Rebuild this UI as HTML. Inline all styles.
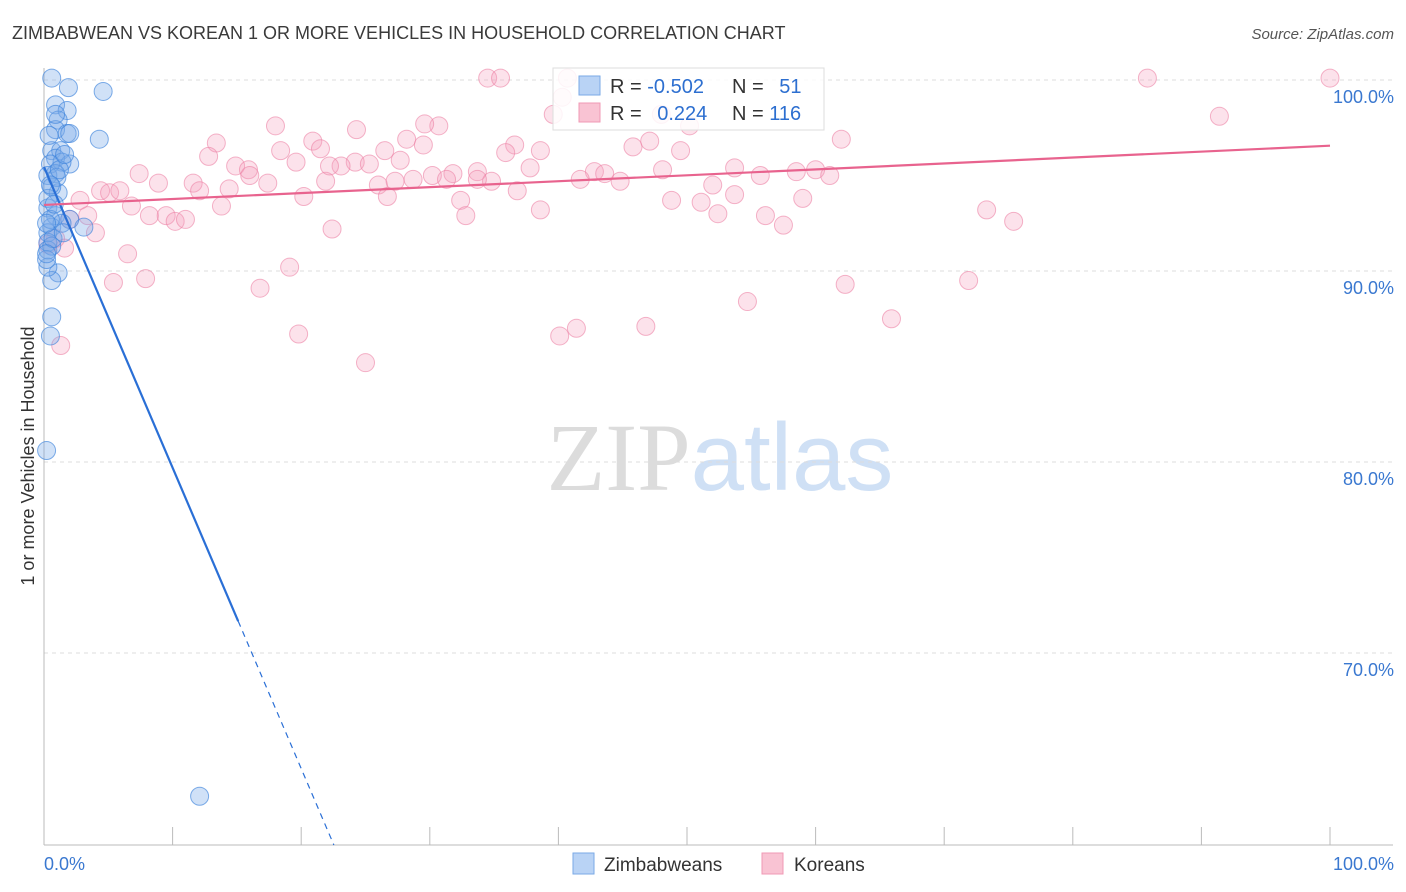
<!DOCTYPE html>
<html><head><meta charset="utf-8"><style>
body{margin:0;background:#fff;font-family:"Liberation Sans",sans-serif;}
svg{display:block}
</style></head><body>
<svg id="chart" width="1406" height="892" xmlns="http://www.w3.org/2000/svg">
<text x="12" y="39" font-size="18" fill="#3a3a3a">ZIMBABWEAN VS KOREAN 1 OR MORE VEHICLES IN HOUSEHOLD CORRELATION CHART</text>
<text x="1394" y="39" font-size="15" fill="#555" text-anchor="end" font-style="italic">Source: ZipAtlas.com</text>
<text transform="translate(34,456) rotate(-90)" font-size="18" fill="#333" text-anchor="middle">1 or more Vehicles in Household</text>
<text x="720" y="490" font-size="96" text-anchor="middle"><tspan fill="#dcdcdc" font-family="Liberation Serif">ZIP</tspan><tspan fill="#cfe0f5">atlas</tspan></text>
<g id="grid"></g><g id="marks"></g><g id="lines"></g>
<g>
<rect x="553" y="68" width="271" height="62" fill="#fff" fill-opacity="0.85" stroke="#ddd"/>
<rect x="579" y="76" width="21" height="19" fill="#b9d3f5" stroke="#7aa9e6"/>
<rect x="579" y="103" width="21" height="19" fill="#f9c3d3" stroke="#f09ab5"/>
<text x="610" y="93" font-size="20" fill="#333">R = <tspan fill="#2d6fd0">-0.502</tspan></text>
<text x="732" y="93" font-size="20" fill="#333">N = <tspan fill="#2d6fd0" dx="10">51</tspan></text>
<text x="610" y="120" font-size="20" fill="#333">R = <tspan fill="#2d6fd0" dx="10">0.224</tspan></text>
<text x="732" y="120" font-size="20" fill="#333">N = <tspan fill="#2d6fd0">116</tspan></text>
</g>
<g>
<rect x="573" y="853" width="21" height="21" fill="#b9d3f5" stroke="#7aa9e6"/>
<text x="604" y="871" font-size="19" fill="#333">Zimbabweans</text>
<rect x="762" y="853" width="21" height="21" fill="#f9c3d3" stroke="#f09ab5"/>
<text x="794" y="871" font-size="19" fill="#333">Koreans</text>
</g>
<text x="44" y="870" font-size="18" fill="#3a78d0">0.0%</text>
<text x="1394" y="870" font-size="18" fill="#3a78d0" text-anchor="end">100.0%</text>
</svg>
<script>
const yTicks=[100,90,80,70];
const xTicks=[0,10,20,30,40,50,60,70,80,90,100];
const blueX=[0.6,1.9,4.6,0.9,1.8,1.1,0.9,1.8,2.0,4.3,0.6,1.3,0.9,2.0,1.4,0.5,0.9,0.3,1.1,0.6,0.3,0.9,2.0,3.1,0.6,0.3,0.3,0.3,0.6,1.1,0.6,0.6,0.5,0.2,12.1,0.3,0.2,1.4,1.0,0.3,0.5,0.7,0.2,1.2,0.4,0.9,1.6,0.5,0.8,1.5,0.2];
const blueY=[100.1,99.6,99.4,98.7,98.4,97.9,97.4,97.2,97.2,96.9,96.3,96.3,95.9,95.6,95.7,95.6,95.1,95.0,94.1,94.4,93.3,92.9,92.7,92.3,92.3,92.0,91.5,91.1,91.3,89.9,89.5,87.6,86.6,80.6,62.5,90.2,90.6,92.5,94.9,93.8,92.7,91.7,90.9,95.3,97.1,98.2,96.1,94.5,93.5,92.0,92.5];
const pinkX=[100,34.5,35.5,40.7,85.8,91.4,40.3,39.6,48.0,18.0,24.3,30.7,29.6,13.4,20.9,28.2,29.5,36.6,38.6,45.8,47.1,49.5,50.2,62.0,35.9,21.5,18.4,26.5,27.7,12.8,19.6,24.2,23.1,25.3,14.9,15.9,7.4,16.0,17.4,21.9,26.0,27.3,28.7,30.2,31.8,33.7,34.8,37.8,42.8,43.6,48.1,53.7,55.7,58.5,60.0,61.1,8.9,4.4,5.1,5.9,11.6,12.1,14.4,20.2,26.7,36.8,32.4,2.8,6.8,13.8,3.4,8.2,9.5,10.2,11.0,32.8,38.6,48.8,51.1,52.4,56.1,59.0,73.3,75.4,57.5,4.0,22.4,6.5,5.4,7.9,16.8,19.1,19.8,25.0,40.1,41.4,46.8,54.7,62.3,65.9,71.9,1.3,0.3,0.9,1.6,2.0,22.2,31.3,33.7,41.7,44.8,52.0,53.7];
const pinkY=[100.1,100.1,100.1,100.1,100.1,98.1,99.1,98.2,98.2,97.6,97.4,97.6,97.7,96.7,96.8,96.9,96.6,96.6,96.3,96.5,96.8,96.3,97.6,96.9,96.2,96.4,96.3,96.3,95.8,96.0,95.7,95.7,95.5,95.6,95.5,95.3,95.1,95.0,94.6,94.7,94.5,94.7,94.8,95.0,95.1,95.2,94.7,95.4,95.2,95.1,95.3,95.4,95.0,95.2,95.3,95.0,94.6,94.2,94.1,94.2,94.6,94.2,94.3,93.9,93.9,94.2,93.7,93.7,93.4,93.4,92.9,92.9,92.9,92.6,92.7,92.9,93.2,93.7,93.6,93.0,92.9,93.8,93.2,92.6,92.4,92.0,92.2,90.9,89.4,89.6,89.1,90.2,86.7,85.2,86.6,87.0,87.1,88.4,89.3,87.5,89.5,86.1,91.4,91.7,91.2,92.7,95.5,94.8,94.8,94.8,94.7,94.5,94.0];
const blueFit=[95.45,-1.575];
const pinkFit=[93.46,0.031];
const X0=44,X1=1330,Y100=80,PX10=191;
const sx=v=>X0+(X1-X0)*v/100;
const sy=v=>Y100+(100-v)*PX10/10;
const NS='http://www.w3.org/2000/svg';
function mk(tag,parent,attrs){const e=document.createElementNS(NS,tag);for(const k in attrs)e.setAttribute(k,attrs[k]);parent.appendChild(e);return e;}
const grid=document.getElementById('grid'),marks=document.getElementById('marks'),lines=document.getElementById('lines');
yTicks.forEach(t=>{
 const l=mk('line',grid,{x1:X0,x2:1393,y1:sy(t),y2:sy(t),stroke:'#ddd','stroke-dasharray':'4,4'});
 
 
 const tx=mk('text',grid,{x:1394,y:sy(t)+23,'font-size':18,fill:'#3a78d0','text-anchor':'end'});
 tx.textContent=t.toFixed(1)+'%';
 
 
});
const ax=mk('line',grid,{x1:X0,x2:1393,y1:845,y2:845,stroke:'#bbb'});


const ay=mk('line',grid,{x1:X0,x2:X0,y1:68,y2:845,stroke:'#bbb'});


xTicks.forEach(t=>{
 const l=mk('line',grid,{x1:sx(t),x2:sx(t),y1:827,y2:845,stroke:'#bbb'});
 
 
});
pinkX.forEach((x,i)=>{
 const c=mk('circle',marks,{cx:sx(x),cy:sy(pinkY[i]),r:9,fill:'rgba(244,160,188,0.3)',stroke:'rgba(236,130,165,0.6)'});
 
 
});
blueX.forEach((x,i)=>{
 const c=mk('circle',marks,{cx:sx(x),cy:sy(blueY[i]),r:9,fill:'rgba(120,170,232,0.35)',stroke:'rgba(60,130,220,0.65)'});
 
 
});
const bx1=15.1,bx2=(59.95-blueFit[0])/blueFit[1];
const b1=mk('line',lines,{x1:sx(0),y1:sy(blueFit[0]),x2:sx(bx1),y2:sy(blueFit[0]+blueFit[1]*bx1),stroke:'#2a6fd6','stroke-width':2.2});


const b2=mk('line',lines,{x1:sx(bx1),y1:sy(blueFit[0]+blueFit[1]*bx1),x2:sx(bx2),y2:sy(blueFit[0]+blueFit[1]*bx2),stroke:'#2a6fd6','stroke-width':1.2,'stroke-dasharray':'6,5'});


const p1=mk('line',lines,{x1:sx(0),y1:sy(pinkFit[0]),x2:sx(100),y2:sy(pinkFit[0]+pinkFit[1]*100),stroke:'#e8638e','stroke-width':2.2});


</script>
</body></html>
